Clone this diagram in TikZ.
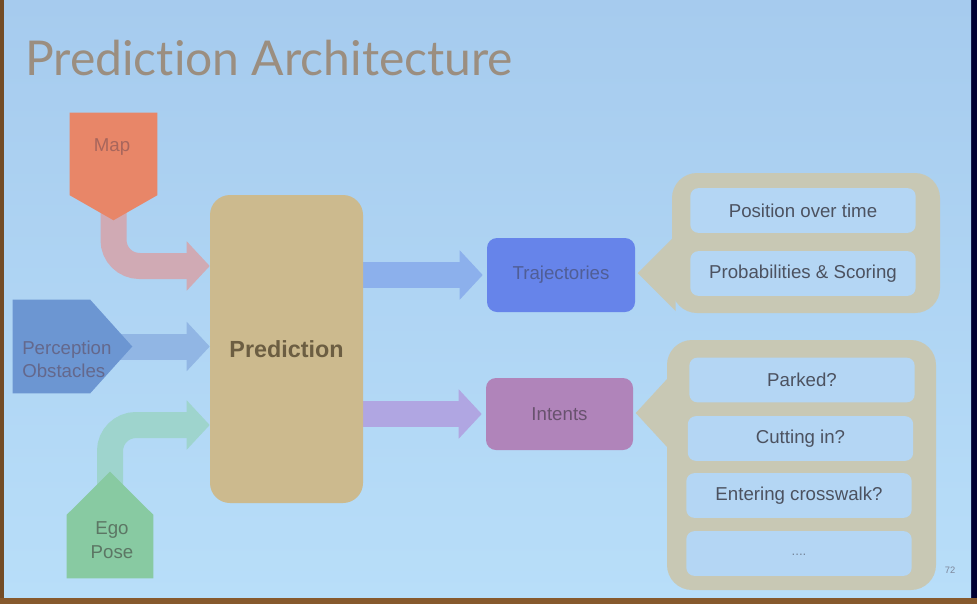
\documentclass[tikz,border=0pt]{standalone}
\usepackage{fontspec}
\setmainfont{Liberation Sans}
\newfontfamily\titlefont[Ligatures={NoCommon}]{Lato}
\usetikzlibrary{arrows.meta,calc}
\pgfdeclarelayer{backdrop}
\pgfdeclarelayer{links}
\pgfsetlayers{backdrop,links,main}

% palette
\definecolor{bgtop}{RGB}{166,203,238}
\definecolor{bgbot}{RGB}{184,222,249}
\definecolor{titlec}{RGB}{155,142,128}
\definecolor{mapc}{RGB}{232,134,104}
\definecolor{mapband}{RGB}{208,170,180}
\definecolor{maptxt}{RGB}{168,102,92}
\definecolor{percc}{RGB}{108,150,210}
\definecolor{percband}{RGB}{145,182,228}
\definecolor{perctxt}{RGB}{100,104,140}
\definecolor{egoc}{RGB}{136,202,162}
\definecolor{egoband}{RGB}{158,212,205}
\definecolor{egotxt}{RGB}{92,118,100}
\definecolor{predc}{RGB}{204,186,142}
\definecolor{predtxt}{RGB}{108,94,66}
\definecolor{trajband}{RGB}{140,176,236}
\definecolor{trajc}{RGB}{102,132,234}
\definecolor{trajtxt}{RGB}{80,94,150}
\definecolor{intband}{RGB}{176,166,226}
\definecolor{intc}{RGB}{176,132,186}
\definecolor{inttxt}{RGB}{104,82,110}
\definecolor{notec}{RGB}{200,200,180}
\definecolor{cellc}{RGB}{180,214,244}
\definecolor{celltxt}{RGB}{76,82,96}
\definecolor{pagetxt}{RGB}{125,135,155}

\tikzset{
  x=0.75pt, y=-0.75pt,
  body/.style={font=\fontsize{14}{17}\selectfont},
  box/.style={rectangle, inner sep=0pt, body},
  band/.style={line width=19.5pt, rounded corners=19.5pt,
    -{Triangle[length=17.25pt, width=36pt]}},
  cell/.style={box, fill=cellc, rounded corners=6pt, text=celltxt,
    minimum width=169pt, minimum height=33.5pt},
}

\begin{document}
\begin{tikzpicture}
\useasboundingbox (0,0) rectangle (977,604);

% slide surface and screen edges
\begin{pgfonlayer}{backdrop}
  \fill[black!80!blue] (0,0) rectangle (977,604);
  \shade[top color=bgtop, bottom color=bgbot] (4,0) rectangle (971,598);
  \fill[brown!70!black] (0,598) rectangle (977,604);
  \fill[brown!60!black] (0,0) rectangle (4,598);
\end{pgfonlayer}

\node[anchor=base west, inner sep=0pt, text=titlec,
      font=\titlefont\fontsize{36}{40}\selectfont] (title) at (25,75)
      {Prediction Architecture};

% inputs: pentagon blocks (body node + pointed side in one fill)
\node[box, minimum width=65.25pt, minimum height=61.5pt] (map) at (113.5,154) {};
\fill[mapc] (map.north west) -- (map.north east) -- (map.south east)
  -- ($(map.south)+(0,25)$) -- (map.south west) -- cycle;
\node[box, text=maptxt] (maplbl) at (112,147) {Map};

\node[box, minimum width=57.75pt, minimum height=69.75pt] (perc) at (51.5,346.5) {};
\fill[percc] (perc.north west) -- (perc.north east) -- ($(perc.east)+(42,0)$)
  -- (perc.south east) -- (perc.south west) -- cycle;
\node[box, text=perctxt, anchor=west, align=left] (perclbl) at (22,359) {Perception\\Obstacles};

\node[box, minimum width=64.5pt, minimum height=47.25pt] (ego) at (110,546.5) {};
\fill[egoc] (ego.south west) -- (ego.north west) -- ($(ego.north)+(0,-43)$)
  -- (ego.north east) -- (ego.south east) -- cycle;
\node[box, text=egotxt, align=center, font=\fontsize{14}{18.5}\selectfont] (egolbl) at (112,540) {Ego\\Pose};

% core block
\node[box, fill=predc, rounded corners=15pt, minimum width=114.75pt, minimum height=231pt,
      text=predtxt, font=\bfseries\fontsize{17.5}{20}\selectfont] (pred) at (286.5,349) {Prediction};

% outputs
\node[box, fill=trajc, rounded corners=7.5pt, minimum width=111pt, minimum height=55.5pt,
      text=trajtxt] (traj) at (561,275) {Trajectories};
\node[box, fill=intc, rounded corners=7.5pt, minimum width=110.25pt, minimum height=54pt,
      text=inttxt] (intents) at (559.5,414) {Intents};

% detail callouts
\node[box, fill=notec, rounded corners=18.75pt, minimum width=201pt, minimum height=105pt] (note1) at (806,243) {};
\fill[notec] ($(note1.west)+(-34,30)$) -- ($(note1.west)+(4,-8)$) -- ($(note1.west)+(4,68)$) -- cycle;
\node[cell] (pos) at (803,210.5) {Position over time};
\node[cell] (prob) at (803,273.5) {Probabilities \& Scoring};

\node[box, fill=notec, rounded corners=18.75pt, minimum width=201.75pt, minimum height=187.5pt] (note2) at (801.5,465) {};
\fill[notec] ($(note2.west)+(-31,-52)$) -- ($(note2.west)+(4,-90)$) -- ($(note2.west)+(4,-14)$) -- cycle;
\node[cell] (parked) at (802,380) {Parked?};
\node[cell] (cutin) at (800.5,438.5) {Cutting in?};
\node[cell] (xwalk) at (799,495.5) {Entering crosswalk?};
\node[cell, text=celltxt!60!cellc, font=\fontsize{10}{12}\selectfont] (more) at (799,553.5) {\raisebox{-3pt}{....}};

\node[text=pagetxt, font=\fontsize{7}{8}\selectfont, inner sep=0pt] (page) at (950,570) {72};

% flow arrows
\coordinate (mapin) at ($(pred.west)+(0,-83)$);
\coordinate (egoin) at ($(pred.west)+(0,76)$);
\begin{pgfonlayer}{links}
  \draw[band, mapband] (map.south) |- (mapin);
  \draw[band, percband] (perc.east) -- (perc.east -| pred.west);
  \draw[band, egoband] (ego.north) |- (egoin);
  \draw[band, trajband, shorten >=3pt] (pred.east |- traj.west) -- (traj.west);
  \draw[band, intband, shorten >=3pt] (pred.east |- intents.west) -- (intents.west);
\end{pgfonlayer}
\end{tikzpicture}
\end{document}
